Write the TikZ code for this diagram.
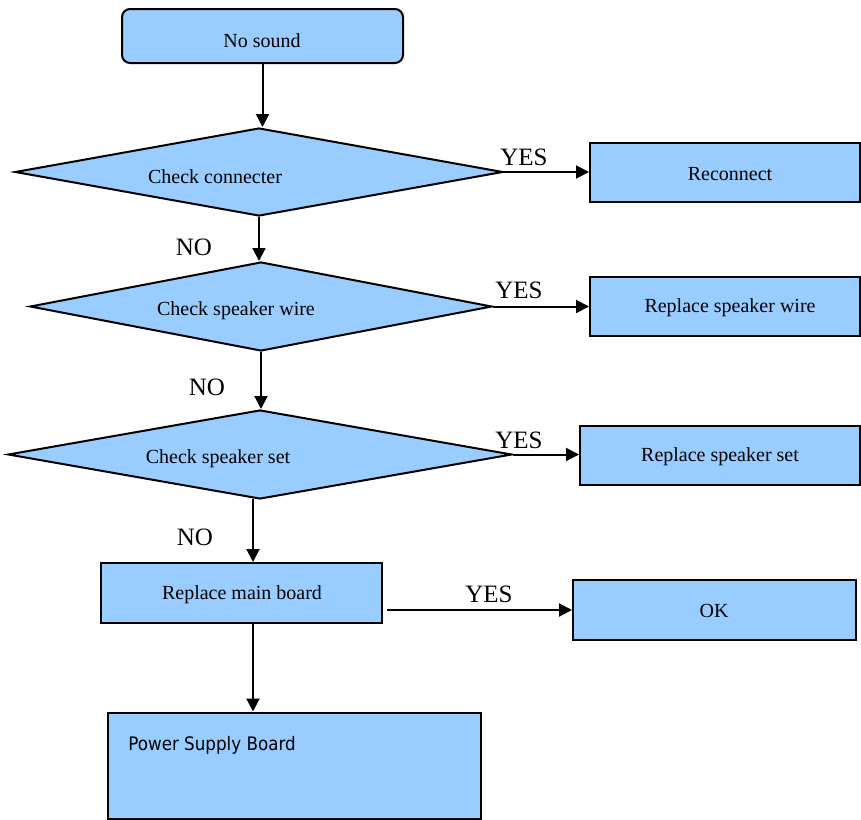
\documentclass[tikz,border=0pt]{standalone}
\usepackage{fontspec}
\setmainfont{Liberation Serif}
\newfontfamily\psufont{DejaVu Sans Condensed}
\usetikzlibrary{positioning,calc,shapes.geometric,arrows.meta}

\definecolor{boxblue}{HTML}{99CCFF}
\tikzset{
  box/.style={draw,rectangle,fill=boxblue,line width=1pt,inner sep=0pt,font=\fontsize{10}{12}\selectfont},
  check/.style={draw,diamond,fill=boxblue,line width=1pt,inner sep=0pt,font=\fontsize{10}{12}\selectfont},
  answer/.style={inner sep=0pt,font=\fontsize{12.5}{14}\selectfont},
  arr/.style={-{Triangle[length=6.5pt,width=6.5pt]},line width=1pt}
}

\begin{document}
\begin{tikzpicture}[x=0.5pt,y=-0.5pt]
\useasboundingbox (0,0) rectangle (861,819);

\node[box,rounded corners=4pt,minimum width=140.5pt,minimum height=27pt] (no-sound) at (262.5,36) {};
\node[font=\fontsize{10}{12}\selectfont] at (262,41) {No sound};

\node[check,minimum width=244pt,minimum height=44pt] (check-conn) at (259,172) {};
\node[font=\fontsize{10}{12}\selectfont] at (215,177) {Check connecter};
\node[box,minimum width=135pt,minimum height=29.5pt] (reconnect) at (725,172.5) {};
\node[font=\fontsize{10}{12}\selectfont] at (730,174) {Reconnect};

\node[check,minimum width=231pt,minimum height=44.5pt] (check-wire) at (261,306.5) {};
\node[font=\fontsize{10}{12}\selectfont] at (236,311) {Check speaker wire};
\node[box,minimum width=135pt,minimum height=29.5pt] (repl-wire) at (725,306.5) {};
\node[font=\fontsize{10}{12}\selectfont] at (730,308) {Replace speaker wire};

\node[check,minimum width=252pt,minimum height=44.5pt] (check-set) at (260,454.5) {};
\node[font=\fontsize{10}{12}\selectfont] at (218,459) {Check speaker set};
\node[box,minimum width=140pt,minimum height=29.5pt] (repl-set) at (720,455.5) {};
\node[font=\fontsize{10}{12}\selectfont] at (720,457) {Replace speaker set};

\node[box,minimum width=140.5pt,minimum height=30pt] (repl-main) at (241.5,593) {};
\node[font=\fontsize{10}{12}\selectfont] at (242,595) {Replace main board};
\node[box,minimum width=141.5pt,minimum height=30pt] (ok) at (714.5,610) {};
\node[font=\fontsize{10}{12}\selectfont] at (714,611) {OK};

\node[box,minimum width=186.5pt,minimum height=53pt] (psu) at (294.5,765.5) {};
\node[anchor=west,inner sep=0pt,font=\psufont\fontsize{9.3}{11}\selectfont] at (128,745) {Power Supply Board};

% answers
\node[answer] (yes-conn) at (524,157) {YES};
\node[answer] (yes-wire) at (519,290) {YES};
\node[answer] (yes-set) at (519,440) {YES};
\node[answer] (yes-main) at (489,594) {YES};
\node[answer] (no-conn) at (194,247) {NO};
\node[answer] (no-wire) at (207,387) {NO};
\node[answer] (no-set) at (195,537) {NO};

\coordinate (down-left) at (253,499);
\coordinate (main-out) at (387,610);

\draw[arr] (no-sound) -- (no-sound |- check-conn.north);
\draw[arr] (check-conn.east) -- (reconnect.west |- check-conn.east);
\draw[arr] (check-conn.south) -- (check-conn.south |- check-wire.north);
\draw[arr] (check-wire.east) -- (repl-wire.west |- check-wire.east);
\draw[arr] (check-wire.south) -- (check-wire.south |- check-set.north);
\draw[arr] (check-set.east) -- (repl-set.west |- check-set.east);
\draw[arr] (down-left) -- (down-left |- repl-main.north);
\draw[arr] (main-out) -- (ok.west);
\draw[arr] (down-left |- repl-main.south) -- (down-left |- psu.north);
\end{tikzpicture}
\end{document}
